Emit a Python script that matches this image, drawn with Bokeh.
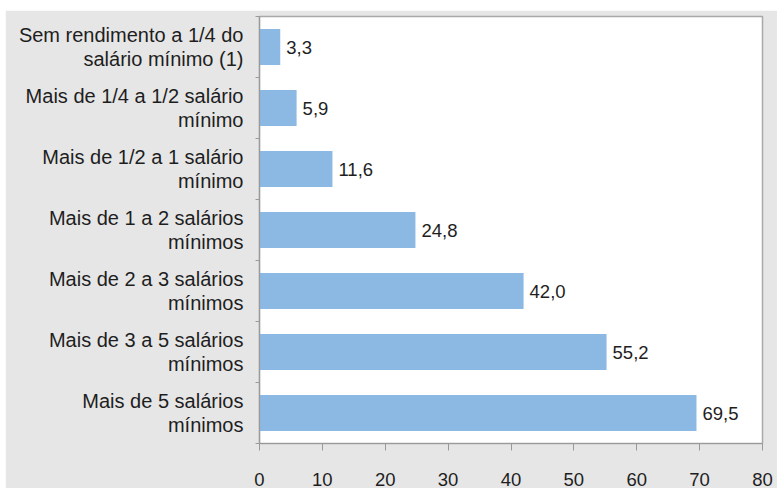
from bokeh.plotting import figure
from bokeh.models import ColumnDataSource, FixedTicker, Range1d, Label
from bokeh.embed import file_html
from bokeh.resources import INLINE

categories_line1 = [
    "Sem rendimento a 1/4 do",
    "Mais de 1/4 a 1/2 salário",
    "Mais de 1/2 a 1 salário",
    "Mais de 1 a 2 salários",
    "Mais de 2 a 3 salários",
    "Mais de 3 a 5 salários",
    "Mais de 5 salários",
]
categories_line2 = [
    "salário mínimo (1)",
    "mínimo",
    "mínimo",
    "mínimos",
    "mínimos",
    "mínimos",
    "mínimos",
]
values = [3.3, 5.9, 11.6, 24.8, 42.0, 55.2, 69.5]
value_labels = ["3,3", "5,9", "11,6", "24,8", "42,0", "55,2", "69,5"]
x_ticks = [0, 10, 20, 30, 40, 50, 60, 70, 80]

n = len(values)
ypos = [n - i - 0.5 for i in range(n)]
LD = 0.195  # half line spacing in category units

FONT = "Liberation Sans"
FS = "18.5px"
CFS = "20px"
TXT = "#1e1e1e"
GRAY_BG = "#e6e6e6"
BAR = "#8cb9e4"

src = ColumnDataSource(dict(y=ypos, v=values, lab=value_labels))

p = figure(width=772, height=478, output_backend="svg", toolbar_location=None,
           x_range=Range1d(0, 80), y_range=Range1d(0, n),
           min_border_left=254, min_border_right=15, min_border_top=6, min_border_bottom=45)
p.margin = (10, 0, 0, 5)
p.background_fill_color = "white"
p.border_fill_color = GRAY_BG
p.outline_line_color = "#a9a9a9"
p.outline_line_width = 1.5
p.grid.visible = False

p.hbar(y="y", right="v", left=0, height=0.59, source=src, fill_color=BAR, line_color=None)
p.text(x="v", y="y", text="lab", source=src, x_offset=6, text_baseline="middle",
       text_align="left", text_font_size=FS, text_color=TXT,
       text_font={"value": FONT})

# x axis
xa = p.xaxis[0]
xa.ticker = FixedTicker(ticks=x_ticks)
xa.axis_line_color = "#9a9a9a"
xa.axis_line_width = 1.2
xa.major_tick_line_color = "#9a9a9a"
xa.major_tick_out = 7
xa.major_tick_in = 0
xa.minor_tick_line_color = None
xa.major_label_standoff = 22
xa.major_label_text_font = FONT
xa.major_label_text_font_size = FS
xa.major_label_text_color = TXT

# y axis: two single-line labels per category, boundary ticks as minor ticks
label_ticks = []
overrides = {}
for y, l1, l2 in zip(ypos, categories_line1, categories_line2):
    t1 = round(y + LD, 4)
    t2 = round(y - LD, 4)
    label_ticks += [t1, t2]
    overrides[t1] = l1
    overrides[t2] = l2

ya = p.yaxis[0]
ya.ticker = FixedTicker(ticks=sorted(label_ticks), minor_ticks=list(range(n + 1)))
ya.major_label_overrides = overrides
ya.axis_line_color = "#9a9a9a"
ya.axis_line_width = 1.2
ya.major_tick_line_color = None
ya.major_tick_out = 0
ya.major_tick_in = 0
ya.minor_tick_line_color = "#9a9a9a"
ya.minor_tick_out = 4
ya.minor_tick_in = 0
ya.major_label_standoff = 12
ya.major_label_text_font = FONT
ya.major_label_text_font_size = CFS
ya.major_label_text_color = TXT

p.add_layout(Label(x=80, y=0, x_offset=2, y_offset=3, text="%", text_align="left",
                   text_baseline="middle", text_font=FONT, text_font_size="15px",
                   text_color=TXT))

open("out.html", "w").write(file_html(p, INLINE))
